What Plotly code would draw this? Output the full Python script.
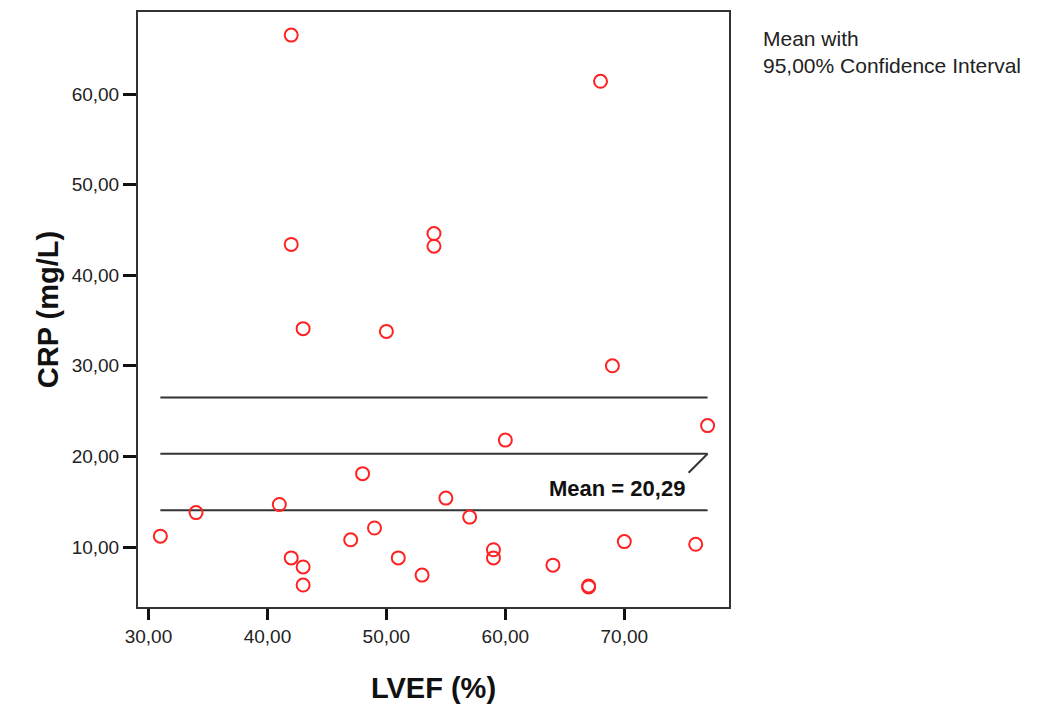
import plotly.graph_objects as go

# ---- data ----
lvef = [42, 68, 42, 54, 54, 43, 50, 69, 77, 60, 48, 31, 34, 41, 42, 43, 43,
        47, 49, 51, 53, 55, 57, 59, 59, 64, 67, 67, 70, 76]
crp = [66.5, 61.4, 43.4, 44.6, 43.2, 34.1, 33.8, 30.0, 23.4, 21.8, 18.1, 11.2,
       13.8, 14.7, 8.8, 7.8, 5.8, 10.8, 12.1, 8.8, 6.9, 15.4, 13.3, 9.7, 8.8,
       8.0, 5.6, 5.7, 10.6, 10.3]

mean_value = 20.29
ci_lower = 14.05
ci_upper = 26.50

x_tickvals = [30, 40, 50, 60, 70]
x_ticktext = ["30,00", "40,00", "50,00", "60,00", "70,00"]
y_tickvals = [10, 20, 30, 40, 50, 60]
y_ticktext = ["10,00", "20,00", "30,00", "40,00", "50,00", "60,00"]

mean_label = "Mean = 20,29"
legend_lines = ["Mean with", "95,00% Confidence Interval"]

FONT = "Liberation Sans, Arial, sans-serif"

fig = go.Figure()

x_min, x_max = min(lvef), max(lvef)
for level in (ci_upper, mean_value, ci_lower):
    fig.add_trace(go.Scatter(
        x=[x_min, x_max], y=[level, level], mode="lines",
        line=dict(color="#333333", width=2), hoverinfo="skip", showlegend=False))

fig.add_trace(go.Scatter(
    x=lvef, y=crp, mode="markers",
    marker=dict(symbol="circle-open", size=13, color="#FF2222",
                line=dict(width=2, color="#FF2222")),
    showlegend=False))

# leader from mean line end to label
fig.add_shape(type="line", xref="x", yref="y", xsizemode="pixel", ysizemode="pixel",
              xanchor=x_max, yanchor=mean_value, x0=-19, y0=-19, x1=0, y1=0,
              line=dict(color="#333333", width=2))
fig.add_annotation(x=x_max, y=mean_value, xref="x", yref="y", text=f"<b>{mean_label}</b>",
                   showarrow=False, xanchor="right", yanchor="middle",
                   xshift=-21, yshift=-35,
                   font=dict(family=FONT, size=22, color="#111111"))

legend_y = [0.955, 0.910]
for txt, yy in zip(legend_lines, legend_y):
    fig.add_annotation(x=1.054, y=yy, xref="paper", yref="paper", text=txt,
                       showarrow=False, xanchor="left", yanchor="middle",
                       font=dict(family=FONT, size=21, color="#222222"))

fig.update_layout(
    width=1049, height=704,
    margin=dict(l=130, r=328, t=4, b=105, autoexpand=False),
    paper_bgcolor="white", plot_bgcolor="white",
    font=dict(family=FONT, color="#222222"),
)
fig.update_xaxes(
    range=[29.12, 78.8], tickvals=x_tickvals, ticktext=x_ticktext,
    showgrid=False, zeroline=False, showline=True, mirror=True,
    linecolor="#333333", linewidth=2,
    ticks="outside", ticklen=11, tickwidth=3, tickcolor="#111111",
    tickfont=dict(family=FONT, size=19, color="#222222"),
    title=dict(text="<b>LVEF (%)</b>", standoff=32,
               font=dict(family=FONT, size=29, color="#111111")),
)
fig.update_yaxes(
    range=[3.38, 69.05], tickvals=y_tickvals, ticktext=y_ticktext,
    showgrid=False, zeroline=False, showline=True, mirror=True,
    linecolor="#333333", linewidth=2,
    ticks="outside", ticklen=13, tickwidth=3, tickcolor="#111111",
    tickfont=dict(family=FONT, size=19, color="#222222"),
    title=dict(text="<b>CRP (mg/L)</b>", standoff=5,
               font=dict(family=FONT, size=29, color="#111111")),
)

fig.write_html("out.html")
